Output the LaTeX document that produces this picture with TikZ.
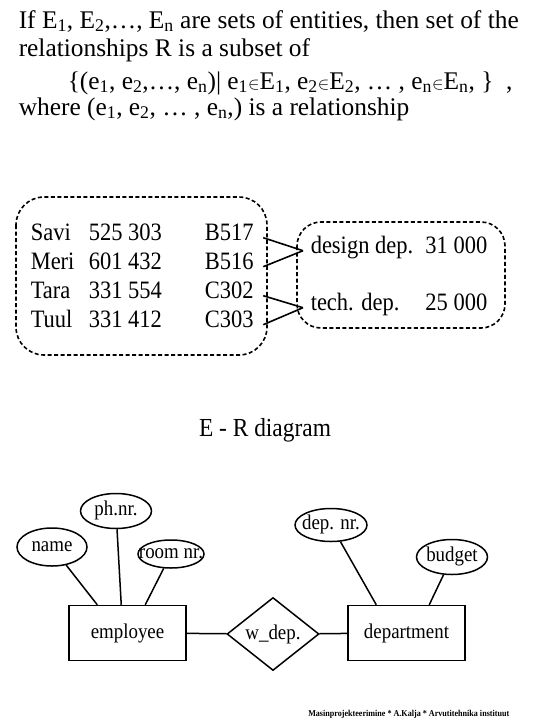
\documentclass[tikz,border=0pt]{standalone}
\usepackage{fontspec}
\setmainfont{Liberation Serif}[FakeStretch=0.9]
\newfontfamily\topfont{Liberation Serif}
\usetikzlibrary{shapes.geometric}
\newcommand\ertxt[1]{\smash{\raisebox{-0.5ex}{\makebox[0pt]{#1}}}}
\newcommand\sbs[1]{\textsubscript{#1}}
\newcommand\elem{{\fontsize{19}{20}\selectfont${\in}$}}
\begin{document}
\begin{tikzpicture}[x=1pt,y=-1pt,line width=1.5pt,
  big/.style={font=\topfont\fontsize{25.4}{28}\selectfont, inner sep=0pt, anchor=base west},
  cell/.style={font=\fontsize{25}{29}\selectfont, inner sep=0pt, anchor=base west},
  room/.style={cell, inner xsep=9pt},
  dep/.style={cell, inner xsep=7pt},
  money/.style={font=\fontsize{25}{29}\selectfont, inner sep=0pt, anchor=base east},
  dbox/.style={draw, dash pattern=on 4pt off 2.5pt, line width=1.6pt},
  link/.style={draw, line width=1.6pt},
  entity/.style={draw, rectangle, minimum width=117pt, minimum height=55pt, inner sep=0pt, font=\fontsize{21}{24}\selectfont},
  rel/.style={draw, diamond, aspect=1.26, minimum width=92pt, minimum height=73pt, inner sep=0pt, font=\fontsize{21}{24}\selectfont},
  attr/.style={draw, ellipse, inner sep=0pt, font=\fontsize{21}{24}\selectfont},
]
\useasboundingbox (0,0) rectangle (540,720);

% top text
\node[big] (t1) at (18,28) {If E\sbs{1}, E\sbs{2},…, E\sbs{n} are sets of entities, then set of the};
\node[big] (t2) at (18,56) {relationships R is a subset of};
\node[big] (t3) at (67,89) {\{(e\sbs{1}, e\sbs{2},…, e\sbs{n})| e\sbs{1}\elem E\sbs{1}, e\sbs{2}\elem E\sbs{2}, … , e\sbs{n}\elem E\sbs{n}, \}~~,};
\node[big] (t4) at (18,115) {where (e\sbs{1}, e\sbs{2}, … , e\sbs{n},) is a relationship};

% instance table
\draw[dbox, rounded corners=28pt] (16,197) rectangle (267,355);
\draw[dbox, rounded corners=24pt] (297,222) rectangle (505,328);

\node[cell] (n1) at (30,240) {Savi};
\node[cell] (n2) at (30,269) {Meri};
\node[cell] (n3) at (30,298) {Tara};
\node[cell] (n4) at (30,327) {Tuul};
\node[cell] (p1) at (88,240) {525 303};
\node[cell] (p2) at (88,269) {601 432};
\node[cell] (p3) at (88,298) {331 554};
\node[cell] (p4) at (88,327) {331 412};
\node[room] (r1) at (195,240) {B517};
\node[room] (r2) at (195,269) {B516};
\node[room] (r3) at (195,298) {C302};
\node[room] (r4) at (195,327) {C303};

\node[dep] (d1) at (303,253) {design dep.};
\node[dep] (d2) at (303,310) {tech. dep.};
\node[money] (m1) at (488,253) {31 000};
\node[money] (m2) at (488,310) {25 000};

\draw[link] (r1.mid east) -- (d1.mid west);
\draw[link] (r2.mid east) -- (d1.mid west);
\draw[link] (r3.mid east) -- (d2.mid west);
\draw[link] (r4.mid east) -- (d2.mid west);

% E-R diagram
\node[font=\fontsize{26}{29}\selectfont, inner sep=0pt, anchor=base] (title) at (265,436) {E - R diagram};

\node[entity] (emp) at (127.5,633) {employee};
\node[rel] (wdep) at (273,634) {w\_dep.};
\node[entity] (dept) at (406.5,633) {department};

\node[attr, minimum width=70pt, minimum height=38pt] (name) at (52,547) {\ertxt{name}};
\node[attr, minimum width=71pt, minimum height=35pt] (ph) at (116,511) {\ertxt{ph.nr.}};
\node[attr, minimum width=66pt, minimum height=28pt] (roomnr) at (171,554) {\ertxt{room nr.}};
\node[attr, minimum width=72pt, minimum height=33pt] (depnr) at (331,525) {\ertxt{dep. nr.}};
\node[attr, minimum width=71pt, minimum height=35pt] (budget) at (452,557) {\ertxt{budget}};

\draw (emp) -- (wdep);
\draw (wdep) -- (dept);
\draw (name) -- ([xshift=29pt]emp.north west);
\draw (ph) -- ([xshift=53pt]emp.north west);
\draw (roomnr) -- ([xshift=77pt]emp.north west);
\draw (depnr) -- ([xshift=29pt]dept.north west);
\draw (budget) -- ([xshift=82pt]dept.north west);

% footer
\node[font=\fontsize{9}{10}\selectfont\bfseries, inner sep=0pt, anchor=base east] (foot) at (510,716) {Masinprojekteerimine * A.Kalja * Arvutitehnika instituut};
\end{tikzpicture}
\end{document}
